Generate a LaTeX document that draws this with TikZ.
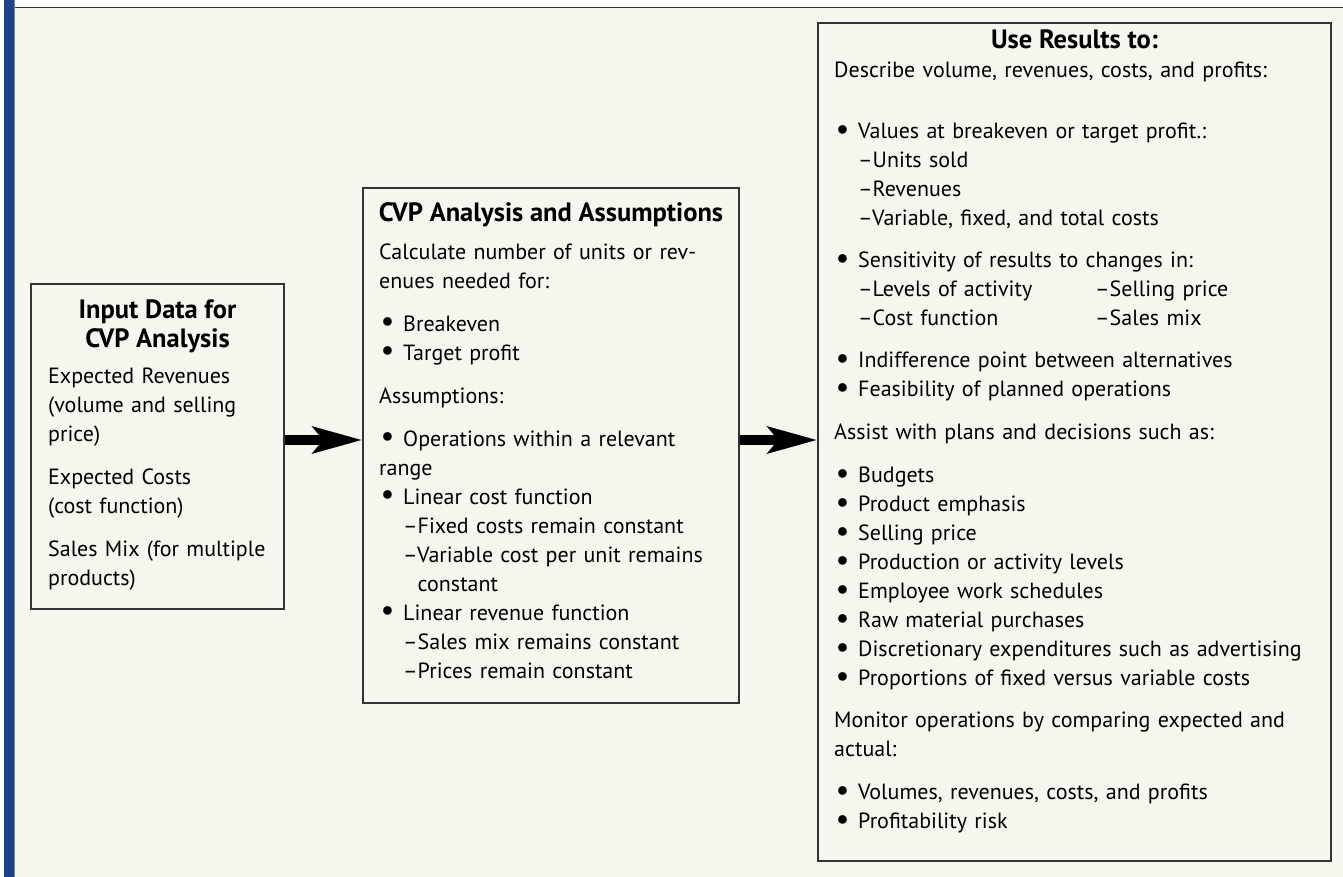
\documentclass[tikz,border=0pt]{standalone}
\usepackage{fontspec}
\usepackage{graphicx}
\setmainfont{PT Sans}
\usetikzlibrary{arrows.meta}
\definecolor{bgc}{HTML}{F6F6EF}
\definecolor{barc}{HTML}{1D4489}
\definecolor{barl}{HTML}{6A88BE}
\definecolor{framec}{HTML}{333333}
\newcommand\myb{\hspace*{1.5pt}\makebox[22.5pt][l]{\raisebox{-0.6pt}{\scalebox{1.4}{\textbullet}}}}
\newcommand\mys{\hspace*{24pt}}
\begin{document}
\begin{tikzpicture}[x=1pt,y=-1pt,
  box/.style={draw=framec, line width=1.3pt, fill=bgc, inner sep=0pt},
  body/.style={anchor=base west, inner sep=0pt, text width=700pt, align=left,
    font=\fontsize{22}{29}\selectfont, text=black},
  ttl/.style={anchor=base, inner sep=0pt, align=center,
    font=\bfseries\fontsize{26.5}{28.5}\selectfont, text=black},
  fat/.style={line width=10pt, -{Stealth[length=49pt,width=26pt,inset=10pt]}}]
\useasboundingbox (0,0) rectangle (1343,877);
\fill[white] (0,0) rectangle (1343,877);
\fill[bgc] (15,8) rectangle (1343,877);
\fill[barc] (4,0) rectangle (14,877);
\fill[barl] (14,0) rectangle (15,877);
\draw[framec, line width=1.5pt] (15,7.5) -- (1343,7.5);

\node[box, minimum width=253pt, minimum height=325pt] (inbox) at (157.5,446.5) {};
\node[box, minimum width=376pt, minimum height=515pt] (midbox) at (551,445.5) {};
\node[box, minimum width=513pt, minimum height=838pt] (resbox) at (1074.5,442) {};

\node[ttl] (intitle) at (157.5,347) {Input Data for\\CVP Analysis};
\node[body] (intext) at (48,383) {Expected Revenues\\
(volume and selling\\
price)\\[14pt]
Expected Costs\\
(cost function)\\[14pt]
Sales Mix (for multiple\\
products)};

\node[ttl] (midtitle) at (551,221.5) {CVP Analysis and Assumptions};
\node[body] (midtext) at (379,259) {Calculate number of units or rev-\\
enues needed for:\\[14pt]
\myb Breakeven\\
\myb Target profit\\[14pt]
Assumptions:\\[14pt]
\myb Operations within a relevant\\
range\\
\myb Linear cost function\\
\mys --Fixed costs remain constant\\
\mys --Variable cost per unit remains\\
\mys \phantom{--}constant\\
\myb Linear revenue function\\
\mys --Sales mix remains constant\\
\mys --Prices remain constant};

\node[ttl] (restitle) at (1074.5,49) {Use Results to:};
\node[body] (restext) at (834,77.5) {Describe volume, revenues, costs, and profits:\\[32.5pt]
\myb Values at breakeven or target profit.:\\
\mys --Units sold\\
\mys --Revenues\\
\mys --Variable, fixed, and total costs\\[13pt]
\myb Sensitivity of results to changes in:\\
\mys \makebox[237pt][l]{--Levels of activity}--Selling price\\
\mys \makebox[237pt][l]{--Cost function}--Sales mix\\[13pt]
\myb Indifference point between alternatives\\
\myb Feasibility of planned operations\\[14pt]
Assist with plans and decisions such as:\\[14pt]
\myb Budgets\\
\myb Product emphasis\\
\myb Selling price\\
\myb Production or activity levels\\
\myb Employee work schedules\\
\myb Raw material purchases\\
\myb Discretionary expenditures such as advertising\\
\myb Proportions of fixed versus variable costs\\[13pt]
Monitor operations by comparing expected and\\
actual:\\[14pt]
\myb Volumes, revenues, costs, and profits\\
\myb Profitability risk};

\draw[fat] (inbox.east |- 0,440) -- (midbox.west |- 0,440);
\draw[fat] (midbox.east |- 0,440) -- (resbox.west |- 0,440);
\end{tikzpicture}
\end{document}
